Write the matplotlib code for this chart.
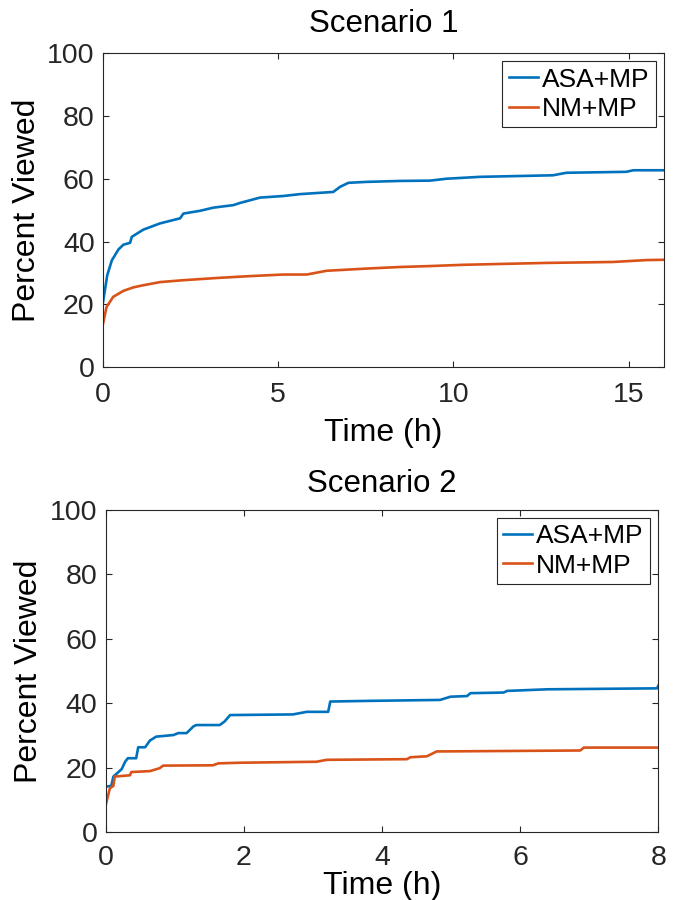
import numpy as np
import matplotlib
matplotlib.use('Agg')
import matplotlib.pyplot as plt

plt.rcParams['font.family'] = ['Liberation Sans', 'DejaVu Sans']

# scenario 1
s1_asa_t = [0, 0.12, 0.25, 0.44, 0.58, 0.77, 0.82, 1.15, 1.63, 2.2, 2.29, 2.77, 3.15, 3.72, 3.91,
            4.48, 5.14, 5.62, 6.57, 6.76, 7.0, 7.52, 8.47, 9.33, 9.8, 10.75, 12.84, 13.22, 14.93, 15.13, 16]
s1_asa_v = [20.8, 29.3, 34, 37.5, 39, 39.6, 41.5, 43.8, 45.8, 47.4, 48.9, 49.8, 50.8, 51.6, 52.3,
            54, 54.5, 55.1, 55.8, 57.4, 58.7, 59.0, 59.3, 59.4, 60, 60.6, 61.1, 61.9, 62.2, 62.7, 62.7]
s1_nm_t = [0, 0.1, 0.29, 0.58, 0.86, 1.15, 1.63, 2.29, 3.24, 4.19, 5.14, 5.81, 6.38, 7.52, 8.47,
           9.33, 10.28, 12.65, 14.55, 15.5, 16]
s1_nm_v = [13.9, 19.2, 22.4, 24.3, 25.4, 26.1, 27.1, 27.7, 28.4, 29, 29.5, 29.5, 30.7, 31.4, 31.9,
           32.2, 32.6, 33.2, 33.5, 34.1, 34.2]

# scenario 2
s2_asa_t = [0, 0.08, 0.11, 0.23, 0.28, 0.32, 0.44, 0.47, 0.57, 0.64, 0.73, 0.98, 1.05, 1.17, 1.27,
            1.31, 1.65, 1.72, 1.8, 2.71, 2.91, 3.22, 3.25, 3.78, 4.84, 4.99, 5.23, 5.28, 5.76, 5.81,
            6.39, 7.98, 8]
s2_asa_v = [14.1, 14.3, 17.2, 19.5, 21.8, 22.9, 22.9, 26.3, 26.3, 28.4, 29.6, 30.1, 30.7, 30.7, 32.8,
            33.2, 33.2, 34.3, 36.3, 36.5, 37.3, 37.3, 40.5, 40.7, 41, 42, 42.2, 43.1, 43.3, 43.8,
            44.3, 44.6, 45.4]
s2_nm_t = [0, 0.06, 0.11, 0.13, 0.35, 0.37, 0.64, 0.78, 0.83, 1.55, 1.63, 1.94, 3.05, 3.2, 4.36,
           4.41, 4.65, 4.79, 6.87, 6.92, 8]
s2_nm_v = [8.4, 13.6, 14.3, 17.2, 17.6, 18.6, 18.9, 19.8, 20.6, 20.7, 21.3, 21.5, 21.8, 22.4, 22.6,
           23.2, 23.5, 25, 25.3, 26.2, 26.2]

blue = '#0072BD'
orange = '#D95319'
dark = '#262626'

fig = plt.figure(figsize=(6.78, 9), dpi=100)
ax1 = fig.add_axes([0.152, 0.592, 0.827, 0.349])
ax2 = fig.add_axes([0.156, 0.0756, 0.815, 0.3578])

panels = [
    (ax1, 'Scenario 1', s1_asa_t, s1_asa_v, s1_nm_t, s1_nm_v, 16, [0, 5, 10, 15], 15, 11),
    (ax2, 'Scenario 2', s2_asa_t, s2_asa_v, s2_nm_t, s2_nm_v, 8, [0, 2, 4, 6, 8], 13, 9.5),
]

for ax, title, at, av, nt, nv, xmax, xt, tpad, xpad in panels:
    ax.plot(at, av, color=blue, lw=1.9, label='ASA+MP')
    ax.plot(nt, nv, color=orange, lw=1.9, label='NM+MP')
    ax.set_xlim(0, xmax)
    ax.set_ylim(0, 100)
    ax.set_xticks(xt)
    ax.set_yticks([0, 20, 40, 60, 80, 100])
    ax.tick_params(direction='in', top=True, right=True, length=4, width=0.8,
                   colors=dark, labelsize=20.5)
    ax.tick_params(axis='x', pad=xpad)
    ax.tick_params(axis='y', pad=6)
    for sp in ax.spines.values():
        sp.set_color(dark)
        sp.set_linewidth(0.8)
    ax.set_title(title, fontsize=22.5, pad=tpad)
    ax.set_ylabel('Percent Viewed', fontsize=23, labelpad=4)
    leg = ax.legend(loc='upper right', fontsize=19, handlelength=1.1, handletextpad=0.15,
                    borderpad=0.25, labelspacing=0.2, borderaxespad=0.3, fancybox=False,
                    framealpha=1)
    leg.get_frame().set_edgecolor(dark)
    leg.get_frame().set_linewidth(0.8)

ax1.set_xlabel('Time (h)', fontsize=23, labelpad=7)
ax2.set_xlabel('Time (h)', fontsize=23, labelpad=0)

fig.savefig('out.png', dpi=100)
